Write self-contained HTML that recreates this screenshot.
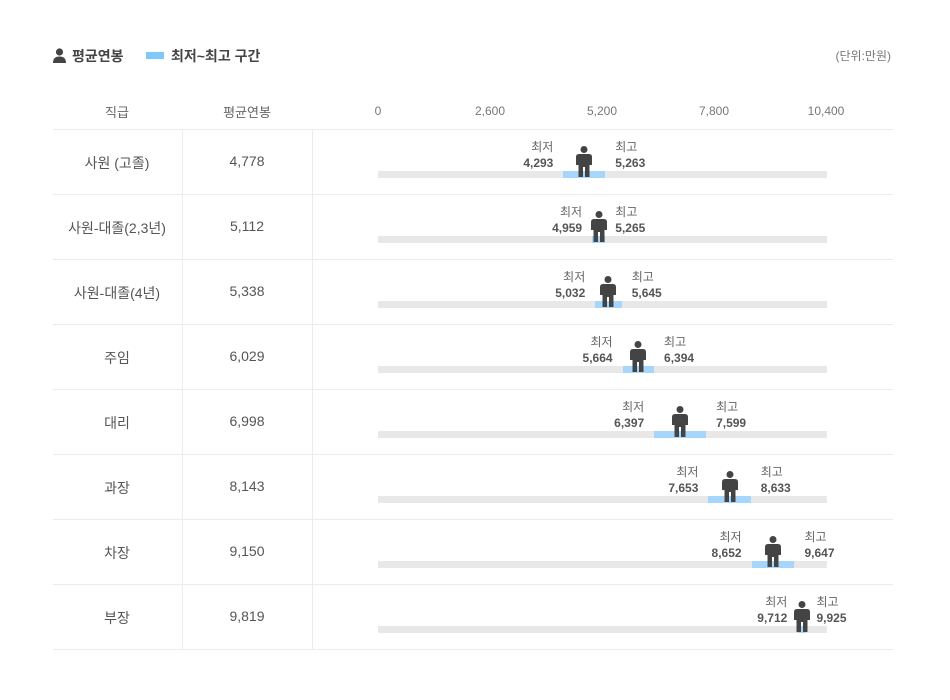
<!DOCTYPE html>
<html><head><meta charset="utf-8"><style>
body{margin:0;width:950px;height:700px;background:#fff;font-family:"Liberation Sans","Noto Sans CJK KR",sans-serif;color:#555;position:relative;overflow:hidden}
.a{position:absolute;white-space:nowrap}
.hl{position:absolute;left:53px;width:840px;height:1px;background:#ececec}
.vl{position:absolute;width:1px;background:#ececec}
.c1{left:52px;width:130px;text-align:center;font-size:14px}
.c2{left:182px;width:130px;text-align:center;font-size:14px}
.gb{position:absolute;left:378px;width:449px;height:7px;background:#e8e8e8}
.bb{position:absolute;height:7px;background:#a6d6fb}
.lb{font-size:12px;color:#666;line-height:16px}
.lb b{color:#555}
</style></head><body>
<svg class="a" style="left:53px;top:48px" width="13" height="15" viewBox="0 0 13 15"><circle cx="6.5" cy="4" r="3.6" fill="#444"/><path d="M0 15 Q0 8.5 6.5 8.5 Q13 8.5 13 15Z" fill="#444"/></svg>
<div class="a" style="left:72px;top:46px;font-size:14px;font-weight:bold;color:#444">평균연봉</div>
<div class="a" style="left:146px;top:52px;width:18px;height:7px;background:#80c8fa"></div>
<div class="a" style="left:171px;top:46px;font-size:14px;font-weight:bold;color:#444">최저~최고 구간</div>
<div class="a" style="right:59px;top:47px;font-size:12px;color:#777">(단위:만원)</div>
<div class="a c1" style="top:102px;font-size:13px;color:#666">직급</div>
<div class="a c2" style="top:102px;font-size:13px;color:#666">평균연봉</div>
<div class="a" style="left:353px;top:104px;width:50px;text-align:center;font-size:12px;color:#777">0</div>
<div class="a" style="left:465px;top:104px;width:50px;text-align:center;font-size:12px;color:#777">2,600</div>
<div class="a" style="left:577px;top:104px;width:50px;text-align:center;font-size:12px;color:#777">5,200</div>
<div class="a" style="left:689px;top:104px;width:50px;text-align:center;font-size:12px;color:#777">7,800</div>
<div class="a" style="left:801px;top:104px;width:50px;text-align:center;font-size:12px;color:#777">10,400</div>
<div class="vl" style="left:182px;top:129px;height:520px"></div>
<div class="vl" style="left:312px;top:129px;height:520px"></div>
<div id="rows"></div>
<script>
var d=[["사원 (고졸)",4778,4293,5263],["사원-대졸(2,3년)",5112,4959,5265],["사원-대졸(4년)",5338,5032,5645],["주임",6029,5664,6394],["대리",6998,6397,7599],["과장",8143,7653,8633],["차장",9150,8652,9647],["부장",9819,9712,9925]];
var h='<div class="hl" style="top:129px"></div>';
function X(v){return 378+v*449/10400;}
function f(v){return v.toLocaleString('en-US');}
d.forEach(function(r,i){var t=129+i*65;
h+='<div class="hl" style="top:'+(t+65)+'px"></div>';
h+='<div class="a c1" style="top:'+(t+24)+'px">'+r[0]+'</div>';
h+='<div class="a c2" style="top:'+(t+24)+'px">'+f(r[1])+'</div>';
h+='<div class="gb" style="top:'+(t+42)+'px"></div>';
var a=X(r[2]),b=X(r[3]),c=X(r[1]);
h+='<div class="bb" style="top:'+(t+42)+'px;left:'+a+'px;width:'+(b-a)+'px"></div>';
h+='<svg class="a" style="left:'+(c-8)+'px;top:'+(t+17)+'px" width="16" height="31" viewBox="0 0 16 31"><circle cx="8" cy="3.5" r="3.5" fill="#444"/><path d="M3 8 H13 Q16 8 16 11 V19 H13.5 V31 H9 V21 H7 V31 H2.5 V19 H0 V11 Q0 8 3 8Z" fill="#444"/></svg>';
h+='<div class="a lb" style="right:'+(950-(a-10))+'px;top:'+(t+10)+'px;text-align:right">최저<br><b>'+f(r[2])+'</b></div>';
h+='<div class="a lb" style="left:'+(b+10)+'px;top:'+(t+10)+'px">최고<br><b>'+f(r[3])+'</b></div>';
});
document.getElementById('rows').innerHTML=h;
</script>
</body></html>
